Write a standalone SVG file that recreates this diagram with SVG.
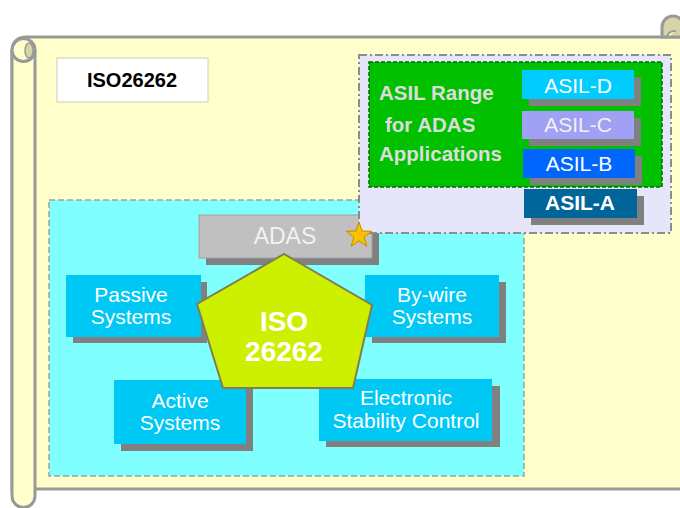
<svg xmlns="http://www.w3.org/2000/svg" width="680" height="508" viewBox="0 0 680 508">
<style>
.scroll{fill:#FFFFCC;stroke:#999999;stroke-width:3}
.sh{fill:#808080}
.box{fill:#00C8F5}
.lbl{font-family:"Liberation Sans",Arial,sans-serif;font-size:21px;fill:#FFFFFF;text-anchor:middle}
.bold{font-weight:bold}
</style>
<rect width="680" height="508" fill="#FFFFFF"/>
<g id="scroll">
  <path class="scroll" d="M12 52 Q12 37 27 37 H692 V489 H12 Z"/>
  <path class="scroll" d="M12 50 V496 A11.5 11.5 0 0 0 35 496 V50"/>
  <circle class="scroll" cx="23.5" cy="50" r="11.5"/>
  <ellipse cx="29" cy="50.5" rx="4" ry="7.5" fill="#D6D6A0" stroke="#999999" stroke-width="1.5"/>
  <path d="M662 37 V27 A11 11 0 0 1 684 27 V37 Z" fill="#D4D4A8" stroke="#999999" stroke-width="3"/>
  <path d="M668 37 Q667 31 676 31" fill="#FFFFCC" stroke="#999999" stroke-width="2"/>
</g>
<g id="title">
  <rect x="57" y="58" width="151" height="44" fill="#FFFFFF" stroke="#CCCCCC" stroke-width="1"/>
  <text class="lbl bold" x="132" y="87" style="fill:#000000;font-size:20px">ISO26262</text>
</g>
<g id="scope">
  <rect x="49" y="200" width="475" height="276" fill="#80FFFF" stroke="#A0A0A0" stroke-width="1.5" stroke-dasharray="6 3"/>
</g>
<g id="adas">
  <rect class="sh" x="206" y="222" width="173" height="43"/>
  <rect x="199" y="215" width="173" height="43" fill="#C0C0C0" stroke="#A0A0A0" stroke-width="1"/>
  <text class="lbl" x="285" y="244" style="font-size:23px;fill:#F2F2F2">ADAS</text>
</g>
<g id="passive">
  <rect class="sh" x="73" y="282" width="134" height="61"/>
  <rect class="box" x="66" y="275" width="135" height="62"/>
  <text class="lbl" x="131" y="302">Passive</text>
  <text class="lbl" x="131" y="324">Systems</text>
</g>
<g id="bywire">
  <rect class="sh" x="372" y="282" width="134" height="61"/>
  <rect class="box" x="365" y="275" width="134" height="62"/>
  <text class="lbl" x="432" y="302">By-wire</text>
  <text class="lbl" x="432" y="324">Systems</text>
</g>
<g id="active">
  <rect class="sh" x="121" y="387" width="132" height="64"/>
  <rect class="box" x="114" y="380" width="132" height="64"/>
  <text class="lbl" x="180" y="408">Active</text>
  <text class="lbl" x="180" y="430">Systems</text>
</g>
<g id="esc">
  <rect class="sh" x="326" y="386" width="174" height="61"/>
  <rect class="box" x="319" y="379" width="173" height="62"/>
  <text class="lbl" x="406" y="405">Electronic</text>
  <text class="lbl" x="406" y="428">Stability Control</text>
</g>
<g id="iso">
  <polygon points="284,254 372,305 353,388 223,388 197,304" fill="#CCF000" stroke="#7F7F50" stroke-width="2"/>
  <text class="lbl bold" x="284" y="331" style="font-size:28px">ISO</text>
  <text class="lbl bold" x="284" y="361" style="font-size:28px">26262</text>
</g>
<g id="asil-panel">
  <rect x="359" y="55" width="312" height="178" fill="#E6E6FA" stroke="#8C8C8C" stroke-width="2" stroke-dasharray="8 3 2 3"/>
  <rect x="369" y="62" width="293" height="125" fill="#00C000" stroke="#006A00" stroke-width="1.5" stroke-dasharray="4 2"/>
  <text class="lbl bold" x="379" y="100" style="text-anchor:start;fill:#DDDDDD;font-size:20.5px">ASIL Range</text>
  <text class="lbl bold" x="385" y="132" style="text-anchor:start;fill:#DDDDDD;font-size:20.5px">for ADAS</text>
  <text class="lbl bold" x="379" y="161" style="text-anchor:start;fill:#DDDDDD;font-size:20.5px">Applications</text>
</g>
<g id="asil-d">
  <rect class="sh" x="529" y="77" width="112" height="29"/>
  <rect x="522" y="70" width="112" height="29" fill="#00CCFF"/>
  <text class="lbl" x="578" y="93">ASIL-D</text>
</g>
<g id="asil-c">
  <rect class="sh" x="529" y="118" width="112" height="28"/>
  <rect x="522" y="111" width="112" height="28" fill="#A0A0F5"/>
  <text class="lbl" x="578" y="132" style="fill:#F2F2F2">ASIL-C</text>
</g>
<g id="asil-b">
  <rect class="sh" x="530" y="156" width="112" height="29"/>
  <rect x="523" y="149" width="112" height="29" fill="#0066FF"/>
  <text class="lbl" x="579" y="171">ASIL-B</text>
</g>
<g id="asil-a">
  <rect class="sh" x="531" y="196" width="113" height="29"/>
  <rect x="524" y="189" width="113" height="29" fill="#006699"/>
  <text class="lbl bold" x="580" y="210">ASIL-A</text>
</g>
<g id="star">
  <polygon points="359,222 362.2,231.1 371.8,231.3 364.1,237.1 366.9,246.3 359,240.8 351.1,246.3 353.9,237.1 346.2,231.3 355.8,231.1" fill="#FFC000" stroke="#C08A00" stroke-width="1"/>
</g>
<g id="connectors"></g>
</svg>
